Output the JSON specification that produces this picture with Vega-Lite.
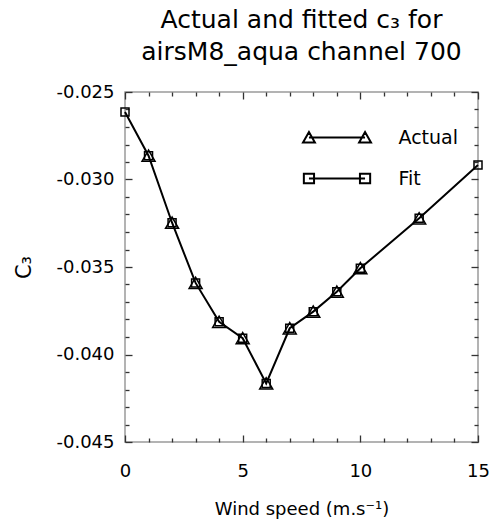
{
  "$schema": "https://vega.github.io/schema/vega-lite/v6.json",
  "width": 353,
  "height": 350,
  "autosize": {"type": "none"},
  "padding": {"left": 125, "top": 92, "right": 15, "bottom": 77},
  "background": "white",
  "config": {"view": {"stroke": "#9a9a9a", "strokeWidth": 1.5}, "font": "DejaVu Sans"},
  "title": {
    "text": ["Actual and fitted c₃ for", "airsM8_aqua channel 700"],
    "fontSize": 25, "fontWeight": "normal", "font": "DejaVu Sans", "color": "black",
    "lineHeight": 32, "offset": 18, "anchor": "middle"
  },
  "data": {"values": [
    {"speed": 0, "c3": -0.02614, "series": "Fit"},
    {"speed": 1, "c3": -0.02864, "series": "Fit"},
    {"speed": 2, "c3": -0.03247, "series": "Fit"},
    {"speed": 3, "c3": -0.03591, "series": "Fit"},
    {"speed": 4, "c3": -0.03813, "series": "Fit"},
    {"speed": 5, "c3": -0.03907, "series": "Fit"},
    {"speed": 6, "c3": -0.04165, "series": "Fit"},
    {"speed": 7, "c3": -0.0385, "series": "Fit"},
    {"speed": 8, "c3": -0.03755, "series": "Fit"},
    {"speed": 9, "c3": -0.03641, "series": "Fit"},
    {"speed": 10, "c3": -0.03507, "series": "Fit"},
    {"speed": 12.5, "c3": -0.03222, "series": "Fit"},
    {"speed": 15, "c3": -0.02917, "series": "Fit"},
    {"speed": 1, "c3": -0.02864, "series": "Actual"},
    {"speed": 2, "c3": -0.03247, "series": "Actual"},
    {"speed": 3, "c3": -0.03591, "series": "Actual"},
    {"speed": 4, "c3": -0.03813, "series": "Actual"},
    {"speed": 5, "c3": -0.03907, "series": "Actual"},
    {"speed": 6, "c3": -0.04165, "series": "Actual"},
    {"speed": 7, "c3": -0.0385, "series": "Actual"},
    {"speed": 8, "c3": -0.03755, "series": "Actual"},
    {"speed": 9, "c3": -0.03641, "series": "Actual"},
    {"speed": 10, "c3": -0.03507, "series": "Actual"},
    {"speed": 12.5, "c3": -0.03222, "series": "Actual"}
  ]},
  "layer": [
    {
      "transform": [{"filter": "datum.series === 'Fit'"}],
      "mark": {"type": "line", "color": "black", "strokeWidth": 2},
      "encoding": {
        "x": {"field": "speed", "type": "quantitative",
          "scale": {"domain": [0, 15], "nice": false, "zero": false},
          "axis": {"orient": "bottom", "values": [0,1,2,3,4,5,6,7,8,9,10,11,12,13,14,15],
            "labelExpr": "datum.value % 5 === 0 ? datum.label : ''",
            "domain": false, "grid": false, "labelFlush": false, "labelOverlap": false,
            "ticks": true, "tickColor": "#333", "tickWidth": 1.3,
            "tickSize": {"condition": {"test": "datum.value % 5 === 0", "value": -7}, "value": -4},
            "labelFontSize": 18, "labelFont": "DejaVu Sans", "labelColor": "black", "labelPadding": 27,
            "title": "Wind speed (m.s⁻¹)", "titleFontSize": 18, "titleFont": "DejaVu Sans", "titleFontWeight": "normal",
            "titleColor": "black", "titlePadding": 17}},
        "y": {"field": "c3", "type": "quantitative",
          "scale": {"domain": [-0.045, -0.025], "nice": false, "zero": false},
          "axis": {"orient": "left", "values": [-0.045,-0.044,-0.043,-0.042,-0.041,-0.04,-0.039,-0.038,-0.037,-0.036,-0.035,-0.034,-0.033,-0.032,-0.031,-0.03,-0.029,-0.028,-0.027,-0.026,-0.025],
            "labelExpr": "abs(round(datum.value * 1000)) % 5 === 0 ? replace(format(datum.value, '.3f'), '\u2212', '-') : ''",
            "domain": false, "grid": false, "labelFlush": false, "labelOverlap": false,
            "ticks": true, "tickColor": "#333", "tickWidth": 1.3,
            "tickSize": {"condition": {"test": "abs(round(datum.value * 1000)) % 5 === 0", "value": -7}, "value": -4},
            "labelFontSize": 18, "labelFont": "DejaVu Sans", "labelColor": "black", "labelPadding": 18,
            "title": "C₃", "titleFontSize": 21, "titleFont": "DejaVu Sans", "titleFontWeight": "normal",
            "titleColor": "black", "titlePadding": 21}}
      }
    },
    {
      "transform": [{"filter": "datum.series === 'Actual'"}],
      "mark": {"type": "point", "shape": "triangle-up", "size": 169, "filled": false, "color": "black", "strokeWidth": 1.5, "opacity": 1},
      "encoding": {
        "x": {"field": "speed", "type": "quantitative",
          "axis": {"orient": "top", "values": [0,1,2,3,4,5,6,7,8,9,10,11,12,13,14,15], "labels": false, "title": null,
            "domain": false, "grid": false, "ticks": true, "tickColor": "#333", "tickWidth": 1.3,
            "tickSize": {"condition": {"test": "datum.value % 5 === 0", "value": -7}, "value": -4}}},
        "y": {"field": "c3", "type": "quantitative",
          "axis": {"orient": "right", "values": [-0.045,-0.044,-0.043,-0.042,-0.041,-0.04,-0.039,-0.038,-0.037,-0.036,-0.035,-0.034,-0.033,-0.032,-0.031,-0.03,-0.029,-0.028,-0.027,-0.026,-0.025],
            "labels": false, "title": null, "domain": false, "grid": false, "ticks": true, "tickColor": "#333", "tickWidth": 1.3,
            "tickSize": {"condition": {"test": "abs(round(datum.value * 1000)) % 5 === 0", "value": -7}, "value": -4}}}
      }
    },
    {
      "transform": [{"filter": "datum.series === 'Fit'"}],
      "mark": {"type": "point", "shape": "square", "size": 64, "filled": false, "color": "black", "strokeWidth": 1.5, "opacity": 1},
      "encoding": {
        "x": {"field": "speed", "type": "quantitative", "axis": null},
        "y": {"field": "c3", "type": "quantitative", "axis": null}
      }
    },
    {
      "mark": {"type": "point", "filled": false, "opacity": 0, "size": 289, "color": "black", "strokeWidth": 2},
      "encoding": {
        "x": {"field": "speed", "type": "quantitative", "axis": null},
        "y": {"field": "c3", "type": "quantitative", "axis": null},
        "shape": {"field": "series", "type": "nominal",
          "scale": {"domain": ["Actual", "Fit"],
            "range": ["M-4,0.6L-2.6,0.6L-3.3,-0.65Z M-3.3,0L3.3,0 M2.6,0.6L4,0.6L3.3,-0.65Z",
                      "M-3.9,-0.55L-2.7,-0.55L-2.7,0.55L-3.9,0.55Z M-3.3,0L3.3,0 M2.7,-0.55L3.9,-0.55L3.9,0.55L2.7,0.55Z"]},
          "legend": {"orient": "none", "legendX": 202.5, "legendY": 36, "title": null, "padding": 0,
            "symbolSize": 289, "symbolStrokeColor": "black", "symbolStrokeWidth": 2, "symbolFillColor": "transparent",
            "symbolOpacity": 1, "labelFontSize": 19, "labelFont": "DejaVu Sans", "labelColor": "black",
            "labelOffset": 52, "rowPadding": 21, "labelLimit": 0}}
      }
    }
  ],
  "resolve": {"axis": {"x": "independent", "y": "independent"}}
}
